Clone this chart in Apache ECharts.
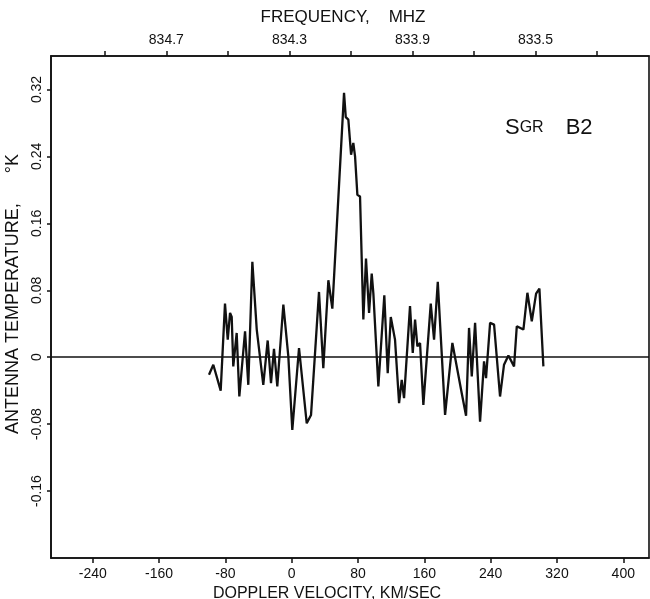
<!DOCTYPE html>
<html>
<head>
<meta charset="utf-8">
<script src="https://cdn.jsdelivr.net/npm/echarts@6/dist/echarts.min.js"></script>
<style>
  html, body { margin: 0; padding: 0; background: #fff; }
  #chart { width: 650px; height: 599px; }
</style>
</head>
<body>
<div id="chart"></div>
<script>
// spectrum: doppler velocity (km/s) and antenna temperature (K)
let velocity = [-99.8, -94.6, -85.7, -80.5, -77.2, -74.4, -72.4, -70.5, -66.4, -63.2,
  -56.3, -52.4, -47.5, -42.2, -34.3, -29.0, -25.0, -21.4, -17.4, -10.1,
  -4.1, 0.7, 8.8, 18.1, 23.3, 32.9, 38.1, 44.2, 49.0, 63.1,
  65.2, 68.3, 71.6, 74.3, 76.4, 79.2, 82.4, 86.4, 89.6, 93.3,
  96.5, 98.5, 104.5, 111.7, 115.8, 119.5, 124.6, 129.5, 132.7, 135.5,
  142.7, 146.0, 148.8, 151.6, 154.8, 158.8, 167.7, 171.7, 176.2, 185.0,
  193.8, 205.1, 210.3, 213.9, 217.2, 221.2, 227.2, 232.0, 234.4, 239.3,
  244.1, 251.3, 256.1, 261.4, 268.2, 271.5, 279.5, 284.3, 289.6, 294.8,
  298.8, 303.6];
let temperature = [-0.021, -0.009, -0.040, 0.064, 0.021, 0.053, 0.048, -0.011, 0.029, -0.047,
  0.031, -0.033, 0.114, 0.033, -0.033, 0.020, -0.031, 0.010, -0.035, 0.063,
  0.001, -0.087, 0.011, -0.079, -0.069, 0.078, -0.013, 0.092, 0.058, 0.316,
  0.287, 0.284, 0.242, 0.256, 0.240, 0.194, 0.192, 0.045, 0.118, 0.053,
  0.100, 0.076, -0.035, 0.074, -0.019, 0.048, 0.021, -0.055, -0.027, -0.049,
  0.061, 0.005, 0.045, 0.013, 0.017, -0.057, 0.064, 0.021, 0.090, -0.069,
  0.017, -0.043, -0.070, 0.035, -0.023, 0.041, -0.077, -0.005, -0.025, 0.041,
  0.039, -0.047, -0.009, 0.002, -0.011, 0.037, 0.033, 0.077, 0.043, 0.076,
  0.082, -0.011];

// tick positions / labels
let velocityTicks = [-240, -160, -80, 0, 80, 160, 240, 320, 400];
let tempTicks = [-0.16, -0.08, 0, 0.08, 0.16, 0.24, 0.32];
let freqTicks = [834.9, 834.7, 834.5, 834.3, 834.1, 833.9, 833.7, 833.5, 833.3];
let freqLabels = [834.7, 834.3, 833.9, 833.5];

let font = 'Liberation Sans';
let ink = '#111';

let chart = echarts.init(document.getElementById('chart'));

chart.setOption({
  animation: false,
  backgroundColor: '#fff',
  grid: {
    left: 51, top: 56, right: 1, bottom: 41,
    outerBoundsMode: 'none',
    containLabel: false,
    show: true, borderColor: ink, borderWidth: 1.6
  },
  xAxis: [
    {
      type: 'value',
      position: 'bottom',
      min: -290.4,
      max: 431,
      name: 'DOPPLER VELOCITY, KM/SEC',
      nameLocation: 'middle',
      nameGap: 24,
      nameTextStyle: { fontFamily: font, fontSize: 16, color: ink, padding: [0, 46, 0, 0] },
      axisLine: { show: true, onZero: false, lineStyle: { color: ink, width: 1.6 } },
      axisTick: { show: true, length: 5, customValues: velocityTicks, lineStyle: { color: ink, width: 1.5 } },
      axisLabel: { customValues: velocityTicks, margin: 9, fontFamily: font, fontSize: 14, color: ink },
      splitLine: { show: false }
    },
    {
      type: 'value',
      position: 'top',
      inverse: true,
      min: 833.131,
      max: 835.075,
      name: 'FREQUENCY,    MHZ',
      nameLocation: 'middle',
      nameGap: 30,
      nameTextStyle: { fontFamily: font, fontSize: 17, color: ink, padding: [0, 14, 0, 0] },
      axisLine: { show: true, onZero: false, lineStyle: { color: ink, width: 1.6 } },
      axisTick: { show: true, length: 5, customValues: freqTicks, lineStyle: { color: ink, width: 1.5 } },
      axisLabel: {
        customValues: freqLabels, margin: 9, fontFamily: font, fontSize: 14, color: ink,
        formatter: v => v.toFixed(1)
      },
      splitLine: { show: false }
    }
  ],
  yAxis: {
    type: 'value',
    min: -0.24,
    max: 0.36,
    name: 'ANTENNA TEMPERATURE,      °K',
    nameLocation: 'middle',
    nameRotate: 90,
    nameGap: 29,
    nameTextStyle: { fontFamily: font, fontSize: 18, color: ink, padding: [0, 0, 0, 26] },
    axisLine: { show: true, onZero: false, lineStyle: { color: ink, width: 1.6 } },
    axisTick: { show: true, length: 4, customValues: tempTicks, lineStyle: { color: ink, width: 1.5 } },
    axisLabel: {
      customValues: tempTicks, rotate: 90, margin: 7, fontFamily: font, fontSize: 14, color: ink,
      formatter: v => (v === 0 ? '0' : String(Math.round(v * 100) / 100))
    },
    splitLine: { show: false }
  },
  graphic: [
    {
      type: 'text',
      left: 505,
      top: 117,
      style: {
        text: '{a|S}{b|GR}{c|B2}',
        fill: ink,
        rich: {
          a: { fontFamily: font, fontSize: 22, fill: ink },
          b: { fontFamily: font, fontSize: 16, fill: ink },
          c: { fontFamily: font, fontSize: 22, fill: ink, padding: [0, 0, 0, 22] }
        }
      }
    }
  ],
  series: [
    {
      type: 'line',
      xAxisIndex: 0,
      data: velocity.map((v, i) => [v, temperature[i]]),
      showSymbol: false,
      symbol: 'none',
      lineStyle: { color: ink, width: 2.3 },
      markLine: {
        silent: true,
        symbol: 'none',
        label: { show: false },
        lineStyle: { color: ink, width: 1.6, type: 'solid' },
        data: [{ yAxis: 0 }]
      }
    }
  ]
});
</script>
</body>
</html>
